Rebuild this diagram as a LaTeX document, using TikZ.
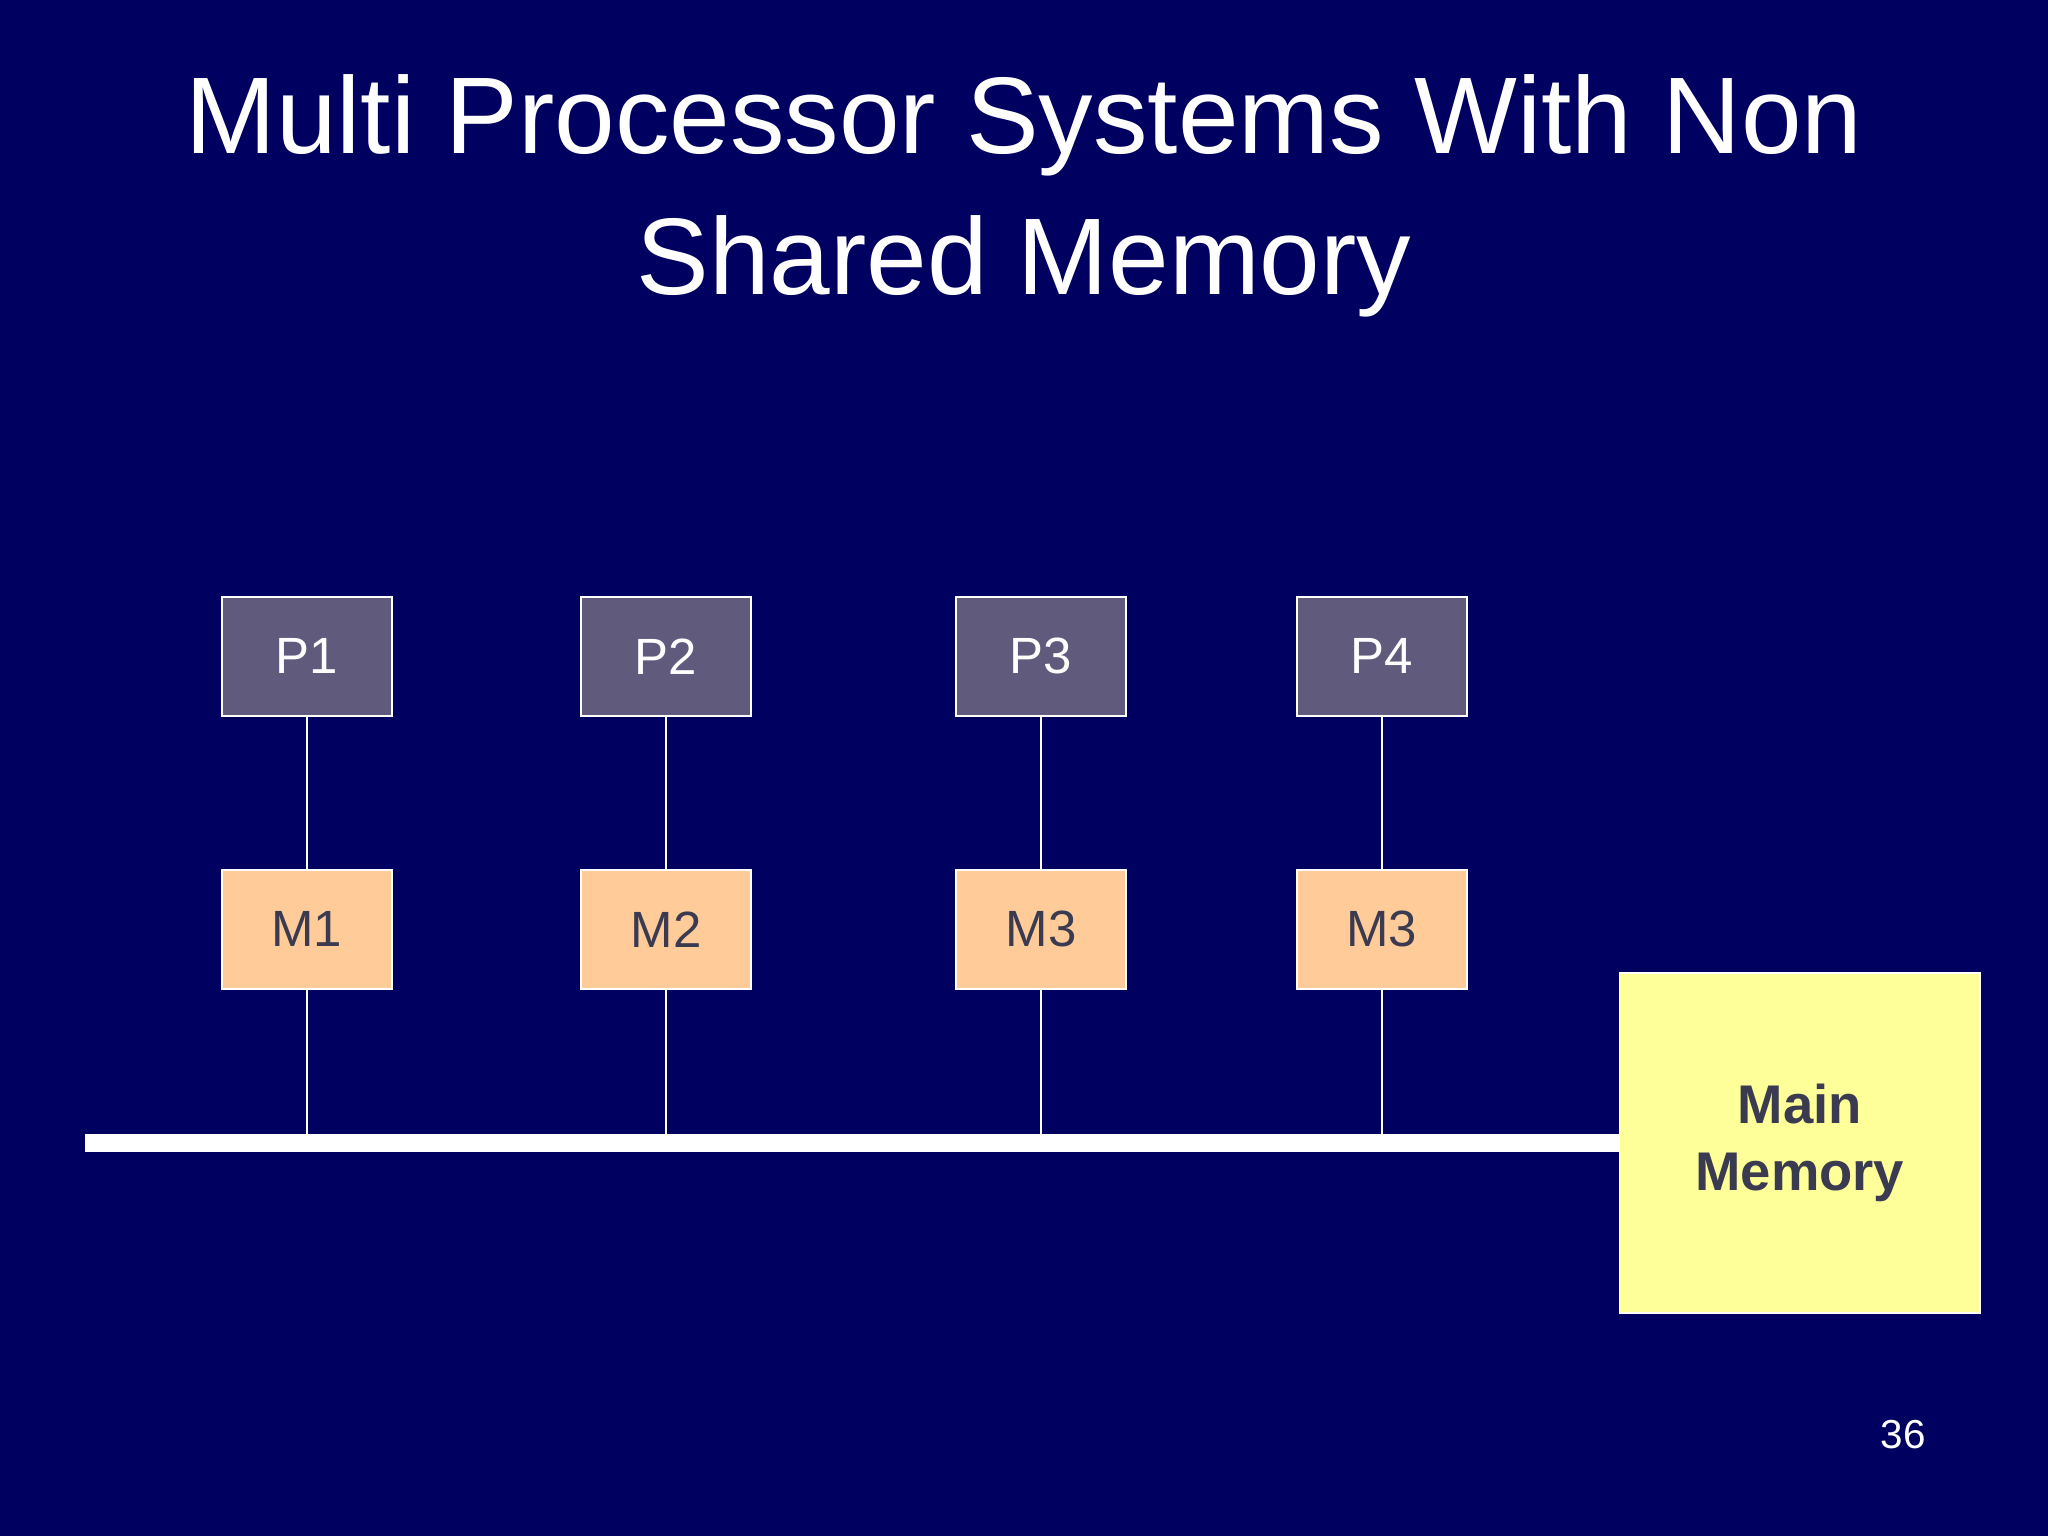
\documentclass[tikz,border=0pt]{standalone}
\usepackage{fontspec}
\setmainfont{Liberation Sans}
\definecolor{bg}{HTML}{000060}
\definecolor{pbox}{HTML}{605A7C}
\definecolor{mbox}{HTML}{FFCC99}
\definecolor{mm}{HTML}{FFFF99}
\definecolor{dtext}{HTML}{3A3A50}
\begin{document}
\begin{tikzpicture}[x=0.013061cm,y=-0.013061cm,
  pb/.style={draw=white,line width=0.6pt,fill=pbox,minimum width=130*0.013061cm,minimum height=91*0.013061cm,inner sep=0,text=white,font=\fontsize{14.5}{17}\selectfont},
  mb/.style={pb,fill=mbox,text=dtext},
  wire/.style={draw=white,line width=0.5pt}]
\fill[bg] (0,0) rectangle (1568,1176);
\useasboundingbox (0,0) rectangle (1568,1176);
\node[text=white,font=\fontsize{31}{40}\selectfont,align=center] (title) at (784,150) {Multi Processor Systems With Non\\Shared Memory};
\foreach \i/\x/\m in {1/235/M1,2/510/M2,3/797/M3,4/1058/M3}{
  \node[pb] (p\i) at (\x,502.5) {P\i};
  \node[mb] (m\i) at (\x,711.5) {\m};
  \coordinate (b\i) at (\x,875);
  \draw[wire] (p\i) -- (m\i);
  \draw[wire] (m\i) -- (b\i);
}
\node[draw=white,line width=0.5pt,fill=mm,minimum width=276*0.013061cm,minimum height=260*0.013061cm,inner sep=0,text=dtext,font=\bfseries\fontsize{15.5}{19}\selectfont,align=center] (main) at (1378,875) {Main\\Memory};
\coordinate (bs) at (65,875);
\draw[white,line width=5pt] (bs) -- (main.west);
\node[text=white,font=\fontsize{11.5}{14}\selectfont] (pg) at (1457,1098) {36};
\end{tikzpicture}
\end{document}
